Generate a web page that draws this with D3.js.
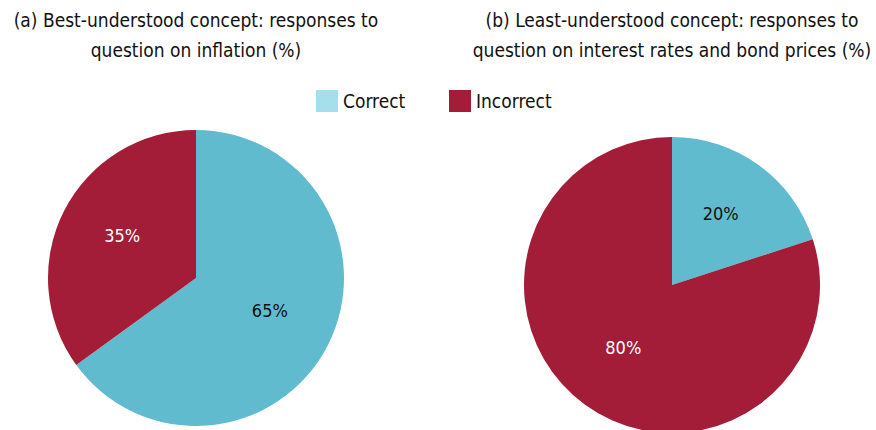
<!DOCTYPE html>
<html lang="en">
<head>
<meta charset="UTF-8">
<title>Financial literacy responses</title>
<style>
    body { margin: 0; background: #fff; font-family: "DejaVu Sans Condensed", "DejaVu Sans", sans-serif; }
    svg text { font-stretch: condensed; }
</style>
</head>
<body>
<svg id="chart" width="876" height="430"></svg>
<script src="https://d3js.org/d3.v7.min.js"></script>
<script>
    const categories = ["Correct", "Incorrect"];
    const inflationValues = [65, 35];
    const bondValues = [20, 80];
    const titleA = ["(a) Best-understood concept: responses to", "question on inflation (%)"];
    const titleB = ["(b) Least-understood concept: responses to", "question on interest rates and bond prices (%)"];

    const pieColors = ["#60bbcf", "#a31c38"];
    const legendColors = ["#a6dfec", "#a31c38"];
    const labelColors = ["#111", "#fff"];

    const svg = d3.select("#chart");
    const radius = 148;

    const pie = d3.pie().sort(null).value(d => d);
    const arc = d3.arc().innerRadius(0).outerRadius(radius);
    const labelArc = d3.arc().innerRadius(radius * 0.56).outerRadius(radius * 0.56);

    function drawPie(values, cx, cy, title, titleX) {
        // title
        svg.append("text")
            .attr("x", titleX)
            .attr("y", 27)
            .attr("text-anchor", "middle")
            .attr("font-size", 19)
            .attr("fill", "#111")
            .selectAll("tspan")
            .data(title)
            .enter()
            .append("tspan")
            .attr("x", titleX)
            .attr("dy", (d, i) => i === 0 ? 0 : 30)
            .text(d => d);

        const g = svg.append("g").attr("transform", "translate(" + cx + "," + cy + ")");
        const slices = pie(values);

        g.selectAll("path")
            .data(slices)
            .enter()
            .append("path")
            .attr("d", arc)
            .attr("fill", (d, i) => pieColors[i]);

        // labels sit a little above the centroid, as in the original
        g.selectAll("text")
            .data(slices)
            .enter()
            .append("text")
            .attr("transform", d => "translate(" + labelArc.centroid(d) + ")")
            .attr("text-anchor", "middle")
            .attr("dy", "0.1em")
            .attr("font-size", 18)
            .attr("fill", (d, i) => labelColors[i])
            .text(d => d.data + "%");
    }

    drawPie(inflationValues, 196, 278, titleA, 196);
    drawPie(bondValues, 672, 285, titleB, 672);

    // legend
    const legendX = d3.scalePoint().domain(categories).range([316, 449]);
    const legend = svg.selectAll(".legend")
        .data(categories)
        .enter()
        .append("g")
        .attr("class", "legend")
        .attr("transform", d => "translate(" + legendX(d) + ",90)");

    legend.append("rect")
        .attr("width", 22)
        .attr("height", 22)
        .attr("fill", (d, i) => legendColors[i]);

    legend.append("text")
        .attr("x", 27)
        .attr("y", 18)
        .attr("font-size", 19)
        .attr("fill", "#111")
        .text(d => d);
</script>
</body>
</html>
